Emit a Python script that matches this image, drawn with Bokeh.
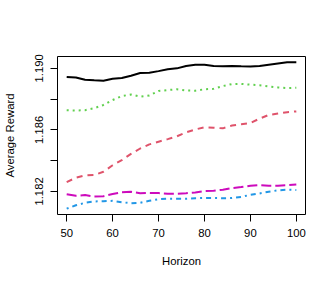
from bokeh.plotting import figure
from bokeh.models import Range1d, FixedTicker
from bokeh.embed import file_html
from bokeh.resources import INLINE

horizon = [50, 52, 54, 56, 58, 60, 62, 64, 66, 68, 70, 72, 74, 76, 78, 80,
           82, 84, 86, 88, 90, 92, 94, 96, 98, 100]

black_series = [1.18944, 1.18940, 1.18926, 1.18922, 1.18920, 1.18933, 1.18937,
                1.18952, 1.18970, 1.18971, 1.18982, 1.18994, 1.19000, 1.19015,
                1.19023, 1.19023, 1.19016, 1.19013, 1.19016, 1.19013, 1.19012,
                1.19015, 1.19023, 1.19031, 1.19039, 1.19039]
green_series = [1.18728, 1.18726, 1.18728, 1.18741, 1.18762, 1.18794, 1.18820,
                1.18830, 1.18816, 1.18824, 1.18853, 1.18859, 1.18864, 1.18856,
                1.18855, 1.18864, 1.18867, 1.18885, 1.18898, 1.18899, 1.18894,
                1.18890, 1.18883, 1.18876, 1.18872, 1.18874]
red_series = [1.18261, 1.18289, 1.18304, 1.18307, 1.18328, 1.18370, 1.18403,
              1.18444, 1.18479, 1.18506, 1.18523, 1.18540, 1.18558, 1.18584,
              1.18603, 1.18617, 1.18614, 1.18610, 1.18628, 1.18636, 1.18645,
              1.18673, 1.18697, 1.18706, 1.18715, 1.18720]
magenta_series = [1.18182, 1.18172, 1.18176, 1.18167, 1.18169, 1.18183, 1.18194,
                  1.18198, 1.18188, 1.18190, 1.18189, 1.18185, 1.18185, 1.18188,
                  1.18193, 1.18202, 1.18204, 1.18211, 1.18222, 1.18228, 1.18237,
                  1.18241, 1.18237, 1.18237, 1.18240, 1.18245]
blue_series = [1.18088, 1.18110, 1.18126, 1.18135, 1.18136, 1.18139, 1.18130,
               1.18123, 1.18126, 1.18139, 1.18149, 1.18153, 1.18153, 1.18152,
               1.18156, 1.18157, 1.18157, 1.18156, 1.18157, 1.18164, 1.18178,
               1.18187, 1.18198, 1.18207, 1.18211, 1.18209]

x_ticks = [50, 60, 70, 80, 90, 100]
y_ticks = [1.182, 1.184, 1.186, 1.188, 1.190]
y_tick_labels = ["1.182", "", "1.186", "", "1.190"]

series = [
    (black_series, "#000000", "solid"),
    (green_series, "#61D04F", "2 4"),
    (red_series, "#DF536B", "6 5"),
    (magenta_series, "#CD0BBC", "10 4"),
    (blue_series, "#2297E6", "2 4 5 4"),
]

all_y = [v for s in series for v in s[0]]
ymin, ymax = min(all_y), max(all_y)
ypad = 0.04 * (ymax - ymin)
xmin, xmax = min(horizon), max(horizon)
xpad = 0.04 * (xmax - xmin)

p = figure(width=326, height=278, output_backend="svg", toolbar_location=None,
           x_range=Range1d(xmin - xpad, xmax + xpad),
           y_range=Range1d(ymin - ypad, ymax + ypad),
           min_border_left=57, min_border_right=21, min_border_top=56,
           min_border_bottom=64)

for ys, col, dash in series:
    p.line(horizon, ys, line_color=col, line_width=2, line_dash=dash)

p.xgrid.grid_line_color = None
p.ygrid.grid_line_color = None
p.outline_line_color = "black"
p.outline_line_width = 1
p.background_fill_color = "white"
p.border_fill_color = "white"

font = "Liberation Sans"
fs = "11.3px"

p.xaxis.ticker = FixedTicker(ticks=x_ticks)
p.yaxis.ticker = FixedTicker(ticks=y_ticks)
p.yaxis.major_label_overrides = {t: l for t, l in zip(y_ticks, y_tick_labels)}
p.yaxis.major_label_orientation = "vertical"

for ax in (p.xaxis, p.yaxis):
    ax.axis_line_color = None
    ax.major_tick_out = 7
    ax.major_tick_in = 0
    ax.minor_tick_line_color = None
    ax.major_tick_line_color = "black"
    ax.major_label_text_font = font
    ax.major_label_text_font_size = fs
    ax.major_label_text_color = "black"
    ax.axis_label_text_font = font
    ax.axis_label_text_font_size = fs
    ax.axis_label_text_font_style = "normal"
    ax.axis_label_text_color = "black"

p.xaxis.axis_label = "Horizon"
p.yaxis.axis_label = "Average Reward"
p.xaxis.major_label_standoff = 7
p.xaxis.axis_label_standoff = 15
p.yaxis.major_label_standoff = 7
p.yaxis.axis_label_standoff = 17

open("out.html", "w").write(file_html(p, INLINE))
